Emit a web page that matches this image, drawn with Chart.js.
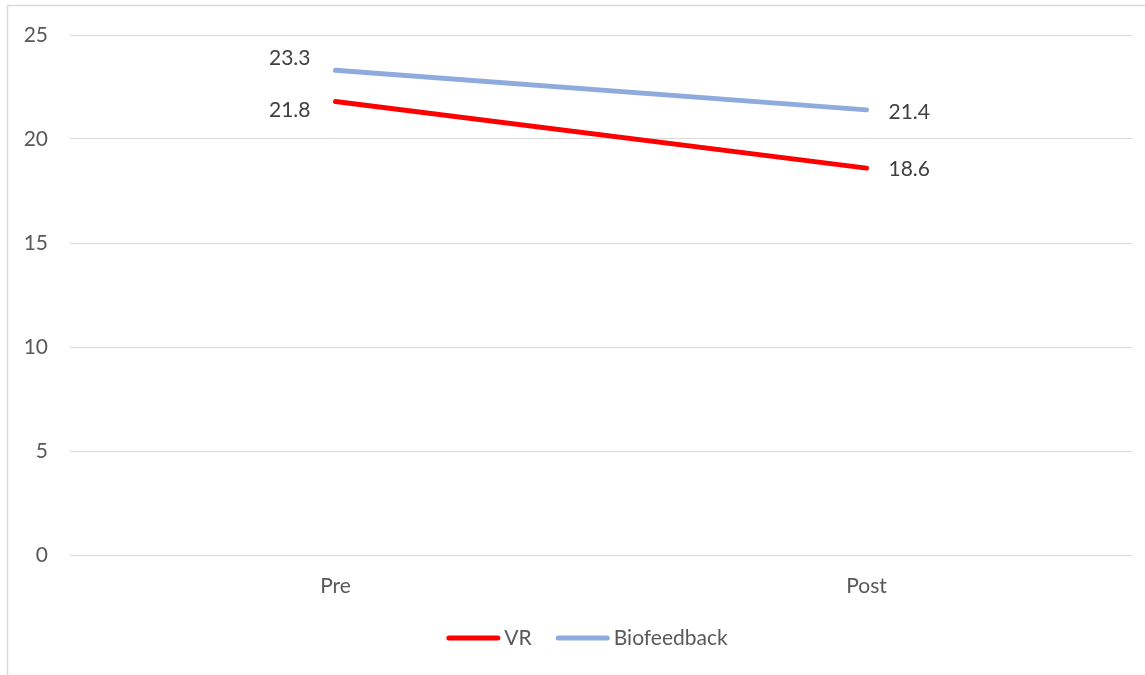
<!DOCTYPE html>
<html>
<head>
<meta charset="utf-8">
<style>
  html, body { margin: 0; padding: 0; background: #ffffff; }
  #wrap { position: relative; width: 1145px; height: 675px; }
</style>
<script src="https://cdn.jsdelivr.net/npm/chart.js@4/dist/chart.umd.min.js"></script>
</head>
<body>
<div id="wrap"><canvas id="chart" width="1145" height="675"></canvas></div>
<script>
// Categories and series values
const categories = ['Pre', 'Post'];
const vrValues = [21.8, 18.6];
const biofeedbackValues = [23.3, 21.4];
const seriesNames = ['VR', 'Biofeedback'];
const yTicks = [0, 5, 10, 15, 20, 25];

const FONT = 'Lato, "Open Sans", sans-serif';
const TEXT = '#595959';
const GRID = '#d9d9d9';

// Outer frame of the chart area (left and top edges)
const framePlugin = {
  id: 'frame',
  beforeDraw(chart) {
    const ctx = chart.ctx;
    ctx.save();
    ctx.strokeStyle = GRID;
    ctx.lineWidth = 1.5;
    ctx.beginPath();
    ctx.moveTo(7.5, chart.height);
    ctx.lineTo(7.5, 5.5);
    ctx.lineTo(chart.width, 5.5);
    ctx.stroke();
    ctx.restore();
  }
};

// Value labels beside each line end
const valueLabelPlugin = {
  id: 'valueLabels',
  afterDatasetsDraw(chart, args, opts) {
    const ctx = chart.ctx;
    ctx.save();
    ctx.font = '21px ' + FONT;
    ctx.fillStyle = '#404040';
    ctx.textBaseline = 'middle';
    chart.data.datasets.forEach((ds, di) => {
      const meta = chart.getDatasetMeta(di);
      meta.data.forEach((pt, i) => {
        const off = opts.offsets[di][i];
        ctx.textAlign = off[0] < 0 ? 'right' : 'left';
        ctx.fillText(ds.data[i].toFixed(1), pt.x + off[0], pt.y + off[1]);
      });
    });
    ctx.restore();
  }
};

// Legend drawn as line samples with names
const lineLegendPlugin = {
  id: 'lineLegend',
  afterDraw(chart, args, opts) {
    const ctx = chart.ctx;
    ctx.save();
    ctx.font = '21px ' + FONT;
    ctx.textBaseline = 'middle';
    const sample = 54, gapText = 4, gapItem = 24;
    const items = chart.data.datasets.map(ds => ({
      label: ds.label, color: ds.borderColor,
      w: sample + gapText + ctx.measureText(ds.label).width
    }));
    const total = items.reduce((s, it) => s + it.w, 0) + gapItem * (items.length - 1);
    let x = opts.centerX - total / 2;
    const y = opts.y;
    items.forEach(it => {
      ctx.strokeStyle = it.color;
      ctx.lineWidth = 5;
      ctx.lineCap = 'round';
      ctx.beginPath();
      ctx.moveTo(x + 2.5, y);
      ctx.lineTo(x + sample - 2.5, y);
      ctx.stroke();
      ctx.fillStyle = TEXT;
      ctx.textAlign = 'left';
      ctx.fillText(it.label, x + sample + gapText, y);
      x += it.w + gapItem;
    });
    ctx.restore();
  }
};

new Chart(document.getElementById('chart'), {
  type: 'line',
  data: {
    labels: categories,
    datasets: [
      {
        label: seriesNames[0],
        data: vrValues,
        borderColor: '#ff0000',
        backgroundColor: '#ff0000',
        borderWidth: 5,
        borderCapStyle: 'round',
        pointRadius: 0,
        tension: 0
      },
      {
        label: seriesNames[1],
        data: biofeedbackValues,
        borderColor: '#8faadc',
        backgroundColor: '#8faadc',
        borderWidth: 5,
        borderCapStyle: 'round',
        pointRadius: 0,
        tension: 0
      }
    ]
  },
  options: {
    responsive: false,
    animation: false,
    layout: { padding: { left: 7, right: 13, top: 35, bottom: 0 } },
    plugins: {
      legend: { display: false },
      tooltip: { enabled: false },
      valueLabels: {
        offsets: [
          [[-25, 9], [22, 1]],
          [[-25, -12], [22, 2]]
        ]
      },
      lineLegend: { centerX: 587, y: 638 }
    },
    scales: {
      x: {
        offset: true,
        grid: { display: false, drawTicks: false },
        border: { display: false },
        ticks: { color: TEXT, font: { family: FONT, size: 21 }, padding: 19 },
        afterFit(scale) { scale.height = 120; }
      },
      y: {
        min: 0,
        max: 25,
        afterBuildTicks(scale) { scale.ticks = yTicks.map(v => ({ value: v })); },
        grid: { color: GRID, lineWidth: 1, drawTicks: false },
        border: { display: false },
        ticks: { color: TEXT, font: { family: FONT, size: 21 }, padding: 22 },
        afterFit(scale) { scale.width = 63; }
      }
    }
  },
  plugins: [framePlugin, valueLabelPlugin, lineLegendPlugin]
});
</script>
</body>
</html>
